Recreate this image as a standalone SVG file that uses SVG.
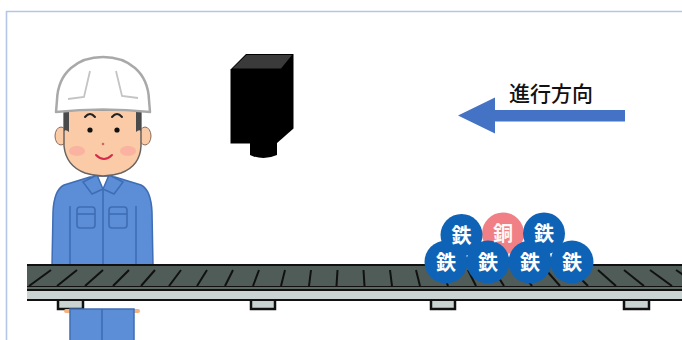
<svg xmlns="http://www.w3.org/2000/svg" width="682" height="340" viewBox="0 0 682 340">
  <defs>
    <style>
      .frame { stroke: #b4c6e7; stroke-width: 1.6; fill: none; }
      .suit { fill: #5b8ed6; stroke: #3e6db5; stroke-width: 1.5; }
      .seam { stroke: #3e6db5; stroke-width: 1.6; fill: none; }
      .skin { fill: #fbcaa6; }
      .leg { fill: #c9d3d2; stroke: #111; stroke-width: 2.5; }
      .slat { stroke: #111; stroke-width: 2; }
      .iron { fill: #0f63b6; }
      .copper { fill: #f07f86; }
      .label { font-family: "Noto Sans CJK JP", "Noto Sans", sans-serif; font-size: 20px; font-weight: bold; fill: #ffffff; text-anchor: middle; }
      .dir { font-family: "Noto Sans CJK JP", "Noto Sans", sans-serif; font-size: 21px; font-weight: 500; fill: #111; text-anchor: middle; }
    </style>
    <clipPath id="beltClip">
      <rect x="27" y="266" width="655" height="20"/>
    </clipPath>
  </defs>

  <rect width="682" height="340" fill="#ffffff"/>

  <!-- panel edge -->
  <path class="frame" d="M6.5,340 V11.5 H682"/>

  <!-- worker, upper part (behind the belt) -->
  <g id="worker">
    <!-- suit -->
    <path class="suit" d="M90,177 L64,185 Q54,190 53,212 L52,266 L153,266 L152,212 Q151,190 141,185 L115,177 Z"/>
    <path class="seam" d="M70,206 V266 M136,206 V266 M103,190 V266"/>
    <rect class="seam" x="77" y="207" width="18" height="21" rx="3"/>
    <path class="seam" d="M77,214 H95"/>
    <rect class="seam" x="109" y="207" width="18" height="21" rx="3"/>
    <path class="seam" d="M109,214 H127"/>
    <!-- collar -->
    <path d="M97,177 L103,189 L109,177 Z" fill="#ffffff"/>
    <path class="suit" d="M83,182 L97,175 L103,189 L92,194 Z"/>
    <path class="suit" d="M123,182 L109,175 L103,189 L114,194 Z"/>
    <!-- ears -->
    <ellipse class="skin" cx="61" cy="136" rx="6" ry="9" stroke="#8a6a5a" stroke-width="1"/>
    <ellipse class="skin" cx="145" cy="136" rx="6" ry="9" stroke="#8a6a5a" stroke-width="1"/>
    <!-- face -->
    <path class="skin" d="M64,110 L64,146 Q66,166 85,173 Q103,179 121,173 Q140,166 141,146 L141,110 Z" stroke="#6a6360" stroke-width="1.5"/>
    <path d="M64,110 H69 V132 Q66,129 64,131 Z M141,110 H136 V132 Q139,129 141,131 Z" fill="#4a4a4a"/>
    <ellipse cx="77" cy="151" rx="8" ry="5" fill="#f7a09a" opacity="0.55"/>
    <ellipse cx="128" cy="151" rx="8" ry="5" fill="#f7a09a" opacity="0.55"/>
    <path d="M85,117 Q90,111 95,117 M112,117 Q117,111 122,117" stroke="#222" stroke-width="2" fill="none" stroke-linecap="round"/>
    <circle cx="90" cy="130" r="2.6" fill="#111"/>
    <circle cx="117" cy="130" r="2.6" fill="#111"/>
    <circle cx="103" cy="144" r="1.3" fill="#c46c64"/>
    <path d="M96,155 Q104,163 112,155" stroke="#d42c4a" stroke-width="2" fill="none" stroke-linecap="round"/>
    <!-- helmet -->
    <path d="M56,112 L57,100 C58,72 78,57 103,57 C128,57 148,72 149,100 L150,112 Q103,107 56,112 Z" fill="#ffffff" stroke="#a9a9a9" stroke-width="2.5" stroke-linejoin="round"/>
    <path d="M90,71 L84,97 L68,99 M116,71 L122,96 L138,98" stroke="#c4c4c4" stroke-width="1.8" fill="none"/>
  </g>

  <!-- conveyor -->
  <g id="conveyor">
    <rect class="leg" x="58" y="298" width="25" height="11"/>
    <rect class="leg" x="251" y="298" width="24" height="11"/>
    <rect class="leg" x="431" y="298" width="24" height="11"/>
    <rect class="leg" x="624" y="298" width="25" height="11"/>
    <rect x="27" y="264" width="655" height="37" fill="#111"/>
    <rect x="27" y="266" width="655" height="20" fill="#505c57"/>
    <rect x="27" y="287" width="655" height="2" fill="#5d6a64"/>
    <rect x="27" y="291" width="655" height="8" fill="#c9d3d2"/>
    <g clip-path="url(#beltClip)">
      <path class="slat" d="M29,286 L51,270 M57,286 L77,270 M85,286 L103,270 M113,286 L129,270 M141,286 L155,270 M169,286 L181,270 M197,286 L207,270 M225,286 L233,270 M253,286 L259,270 M281,286 L285,270 M309,286 L311,270 M336.5,286 L337.5,270 M364.5,286 L363.5,270 M392,286 L390,270 M420,286 L416,270 M448,286 L442,270 M476,286 L468,270 M504,286 L494,270 M532,286 L520,270 M560,286 L546,270 M588,286 L572,270 M616,286 L598,270 M644,286 L624,270 M672,286 L650,270 M700,286 L676,270"/>
    </g>
  </g>

  <!-- worker, lower part (below the belt) -->
  <g id="worker-legs">
    <rect x="64" y="309" width="9" height="4" rx="2" fill="#f4b27e"/>
    <rect x="131" y="309" width="9" height="4" rx="2" fill="#f4b27e"/>
    <rect class="suit" x="70" y="309" width="64" height="33"/>
    <path class="seam" d="M102,309 V340"/>
  </g>

  <!-- camera -->
  <g id="camera">
    <path d="M246,54 H293.5 V128.5 L276.5,143.5 H230.5 V69.5 Z" fill="#000"/>
    <path d="M246.5,55 H292 L281,68.5 H232.5 Z" fill="#3a3a3a"/>
    <path d="M250,140 H277 V155 Q263.5,161 250,155 Z" fill="#000"/>
  </g>

  <!-- direction of travel -->
  <g id="direction">
    <path d="M458,115.5 L495,97.5 V110 H625 V121.5 H495 V133.5 Z" fill="#4472c4"/>
    <text class="dir" x="551" y="101">進行方向</text>
  </g>

  <!-- pieces on the belt: discs first, labels on top -->
  <g id="items">
    <g id="item-cu"><circle class="copper" cx="503" cy="233.5" r="21"/></g>
    <g id="item-fe1"><circle class="iron" cx="461.5" cy="235" r="21"/></g>
    <g id="item-fe2"><circle class="iron" cx="544" cy="233.5" r="21"/></g>
    <g id="item-fe3"><circle class="iron" cx="446" cy="262" r="21.5"/></g>
    <g id="item-fe4"><circle class="iron" cx="488" cy="262" r="21.5"/></g>
    <g id="item-fe5"><circle class="iron" cx="530" cy="262" r="21.5"/></g>
    <g id="item-fe6"><circle class="iron" cx="572" cy="262" r="21.5"/></g>
    <g id="item-labels">
      <text class="label" x="503" y="241" fill-opacity="0.95">銅</text>
      <text class="label" x="461.5" y="242.5">鉄</text>
      <text class="label" x="544" y="241">鉄</text>
      <text class="label" x="446" y="269.5">鉄</text>
      <text class="label" x="488" y="269.5">鉄</text>
      <text class="label" x="530" y="269.5">鉄</text>
      <text class="label" x="572" y="269.5">鉄</text>
    </g>
  </g>
</svg>
